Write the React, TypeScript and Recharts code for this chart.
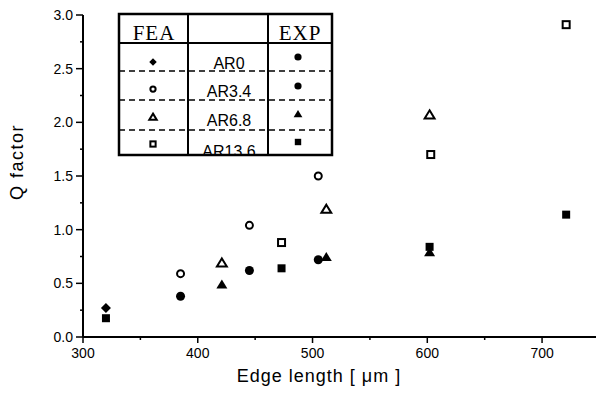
import React from "react";
import { ScatterChart, Scatter, XAxis, YAxis } from "recharts";

// Q factor vs edge length, FEA (open) and experiment (filled) per aspect ratio
const arLabels = ["AR0", "AR3.4", "AR6.8", "AR13.6"];

const feaAr0 = [{ x: 320, y: 0.27 }];
const expAr0 = [{ x: 320, y: 0.175 }];
const feaAr34 = [
  { x: 385, y: 0.59 },
  { x: 445, y: 1.04 },
  { x: 505, y: 1.5 },
];
const expAr34 = [
  { x: 385, y: 0.38 },
  { x: 445, y: 0.62 },
  { x: 505, y: 0.72 },
];
const feaAr68 = [
  { x: 421, y: 0.69 },
  { x: 512, y: 1.19 },
  { x: 602, y: 2.07 },
];
const expAr68 = [
  { x: 421, y: 0.49 },
  { x: 512, y: 0.745 },
  { x: 602, y: 0.79 },
];
const feaAr136 = [
  { x: 473, y: 0.88 },
  { x: 603, y: 1.7 },
  { x: 721, y: 2.91 },
];
const expAr136 = [
  { x: 473, y: 0.64 },
  { x: 602, y: 0.84 },
  { x: 721, y: 1.14 },
];

const xTicks = [300, 350, 400, 450, 500, 550, 600, 650, 700];
const yTicks = [0, 0.25, 0.5, 0.75, 1, 1.25, 1.5, 1.75, 2, 2.25, 2.5, 2.75, 3];

const SANS = "'Liberation Sans', Arial, sans-serif";
const SERIF = "'Liberation Serif', 'Times New Roman', serif";

type Kind = "circle" | "square" | "triangle" | "diamond";

const Marker = ({ cx, cy, kind, filled, s = 1 }: any) => {
  const fill = filled ? "#000" : "#fff";
  const sw = 2;
  if (kind === "circle") {
    return <circle cx={cx} cy={cy} r={(filled ? 4.5 : 3.5) * s} fill={fill} stroke="#000" strokeWidth={filled ? 0 : sw} />;
  }
  if (kind === "square") {
    const h = (filled ? 4 : 3.5) * s;
    return <rect x={cx - h} y={cy - h} width={2 * h} height={2 * h} fill={fill} stroke="#000" strokeWidth={filled ? 0 : sw} />;
  }
  if (kind === "diamond") {
    const h = 5 * s;
    return <polygon points={`${cx},${cy - h} ${cx + h},${cy} ${cx},${cy + h} ${cx - h},${cy}`} fill="#000" />;
  }
  const h = (filled ? 5 : 4.5) * s;
  return (
    <polygon
      points={`${cx},${cy - h} ${cx + h * 1.1},${cy + h * 0.8} ${cx - h * 1.1},${cy + h * 0.8}`}
      fill={fill}
      stroke="#000"
      strokeWidth={filled ? 0 : sw}
      strokeLinejoin="miter"
    />
  );
};

const shapeOf = (kind: Kind, filled: boolean) => (p: any) => (
  <Marker cx={p.cx} cy={p.cy} kind={kind} filled={filled} />
);

const XTick = ({ x, y, payload }: any) => {
  const major = payload.value % 100 === 0;
  return (
    <g>
      <line x1={x} x2={x} y1={y} y2={y + (major ? 6 : 3)} stroke="#000" strokeWidth={1.5} />
      {major && (
        <text x={x} y={y + 21} textAnchor="middle" fontSize={14} fontFamily={SANS} fill="#000">
          {payload.value}
        </text>
      )}
    </g>
  );
};

const YTick = ({ x, y, payload }: any) => {
  const v = payload.value;
  const major = Math.abs(v * 2 - Math.round(v * 2)) < 1e-6;
  return (
    <g>
      <line x1={x - (major ? 7 : 3)} x2={x} y1={y} y2={y} stroke="#000" strokeWidth={1.5} />
      {major && (
        <text x={x - 10} y={y + 5} textAnchor="end" fontSize={14} fontFamily={SANS} fill="#000">
          {v.toFixed(1)}
        </text>
      )}
    </g>
  );
};

// table-like legend in the upper left
const LegendTable = () => {
  const left = 119, right = 332, top = 14, bottom = 155;
  const c1 = 188, c2 = 268, head = 43;
  const dashes = [71, 100, 130];
  const textY = [69, 97, 126, 157];
  const feaY = [62, 89, 117, 144];
  const expY = [57, 86, 114, 142];
  const kinds: Kind[] = ["diamond", "circle", "triangle", "square"];
  return (
    <svg width={596} height={396} style={{ position: "absolute", left: 0, top: 0, pointerEvents: "none" }}>
      <defs>
        <clipPath id="tbl">
          <rect x={left} y={top} width={right - left} height={bottom - top} />
        </clipPath>
      </defs>
      <rect x={left} y={top} width={right - left} height={bottom - top} fill="#fff" />
      <text x={154} y={40} textAnchor="middle" fontSize={21} letterSpacing={1} fontFamily={SERIF} fill="#000">FEA</text>
      <text x={300} y={40} textAnchor="middle" fontSize={21} letterSpacing={1} fontFamily={SERIF} fill="#000">EXP</text>
      <g clipPath="url(#tbl)">
        {arLabels.map((l, i) => (
          <text key={l} x={229} y={textY[i]} textAnchor="middle" fontSize={16} fontFamily={SANS} fill="#000">
            {l}
          </text>
        ))}
      </g>
      {kinds.map((k, i) => (
        <g key={k}>
          <Marker cx={153} cy={feaY[i]} kind={k} filled={k === "diamond"} s={0.75} />
          <Marker cx={298} cy={expY[i]} kind={k === "diamond" ? "circle" : k} filled s={0.8} />
        </g>
      ))}
      {dashes.map((d) => (
        <line key={d} x1={left} x2={right} y1={d} y2={d} stroke="#000" strokeWidth={1.5} strokeDasharray="6 4" />
      ))}
      <line x1={left} x2={right} y1={head} y2={head} stroke="#000" strokeWidth={2} />
      <line x1={c1} x2={c1} y1={top} y2={bottom} stroke="#000" strokeWidth={2} />
      <line x1={c2} x2={c2} y1={top} y2={bottom} stroke="#000" strokeWidth={2} />
      <rect x={left} y={top} width={right - left} height={bottom - top} fill="none" stroke="#000" strokeWidth={2.5} />
    </svg>
  );
};

const App: React.FC = () => {
  return (
    <div
      style={{
        position: "absolute",
        left: 0,
        top: 0,
        width: 596,
        height: 396,
        overflow: "hidden",
        background: "#fff",
      }}
    >
      <ScatterChart width={596} height={396} margin={{ top: 15, right: 0, bottom: 0, left: 0 }}>
        <XAxis
          type="number"
          dataKey="x"
          domain={[300, 747]}
          ticks={xTicks}
          interval={0}
          allowDataOverflow
          height={59}
          tickSize={0}
          tickMargin={0}
          tickLine={false}
          axisLine={{ stroke: "#000", strokeWidth: 2 }}
          tick={(p: any) => <XTick {...p} />}
          label={{
            content: ({ viewBox }: any) => (
              <text
                x={viewBox.x + 236}
                y={viewBox.y + 45}
                textAnchor="middle"
                fontSize={18}
                letterSpacing={1}
                fontFamily={SANS}
                fill="#000"
              >
                Edge length [ μm ]
              </text>
            ),
          }}
        />
        <YAxis
          type="number"
          dataKey="y"
          domain={[0, 3]}
          ticks={yTicks}
          interval={0}
          width={83}
          tickSize={0}
          tickMargin={0}
          tickLine={false}
          axisLine={{ stroke: "#000", strokeWidth: 2 }}
          tick={(p: any) => <YTick {...p} />}
          label={{
            content: ({ viewBox }: any) => {
              const cx = viewBox.x + 17;
              const cy = viewBox.y + viewBox.height / 2 - 14;
              return (
                <text
                  x={cx}
                  y={cy}
                  transform={`rotate(-90 ${cx} ${cy})`}
                  textAnchor="middle"
                  dominantBaseline="central"
                  fontSize={18}
                  letterSpacing={1.5}
                  fontFamily={SANS}
                  fill="#000"
                >
                  Q factor
                </text>
              );
            },
          }}
        />
        <Scatter name="FEA AR0" data={feaAr0} shape={shapeOf("diamond", true)} isAnimationActive={false} />
        <Scatter name="EXP AR0" data={expAr0} shape={shapeOf("square", true)} isAnimationActive={false} />
        <Scatter name="FEA AR3.4" data={feaAr34} shape={shapeOf("circle", false)} isAnimationActive={false} />
        <Scatter name="EXP AR3.4" data={expAr34} shape={shapeOf("circle", true)} isAnimationActive={false} />
        <Scatter name="FEA AR6.8" data={feaAr68} shape={shapeOf("triangle", false)} isAnimationActive={false} />
        <Scatter name="EXP AR6.8" data={expAr68} shape={shapeOf("triangle", true)} isAnimationActive={false} />
        <Scatter name="FEA AR13.6" data={feaAr136} shape={shapeOf("square", false)} isAnimationActive={false} />
        <Scatter name="EXP AR13.6" data={expAr136} shape={shapeOf("square", true)} isAnimationActive={false} />
      </ScatterChart>
      <LegendTable />
    </div>
  );
};

export default App;
